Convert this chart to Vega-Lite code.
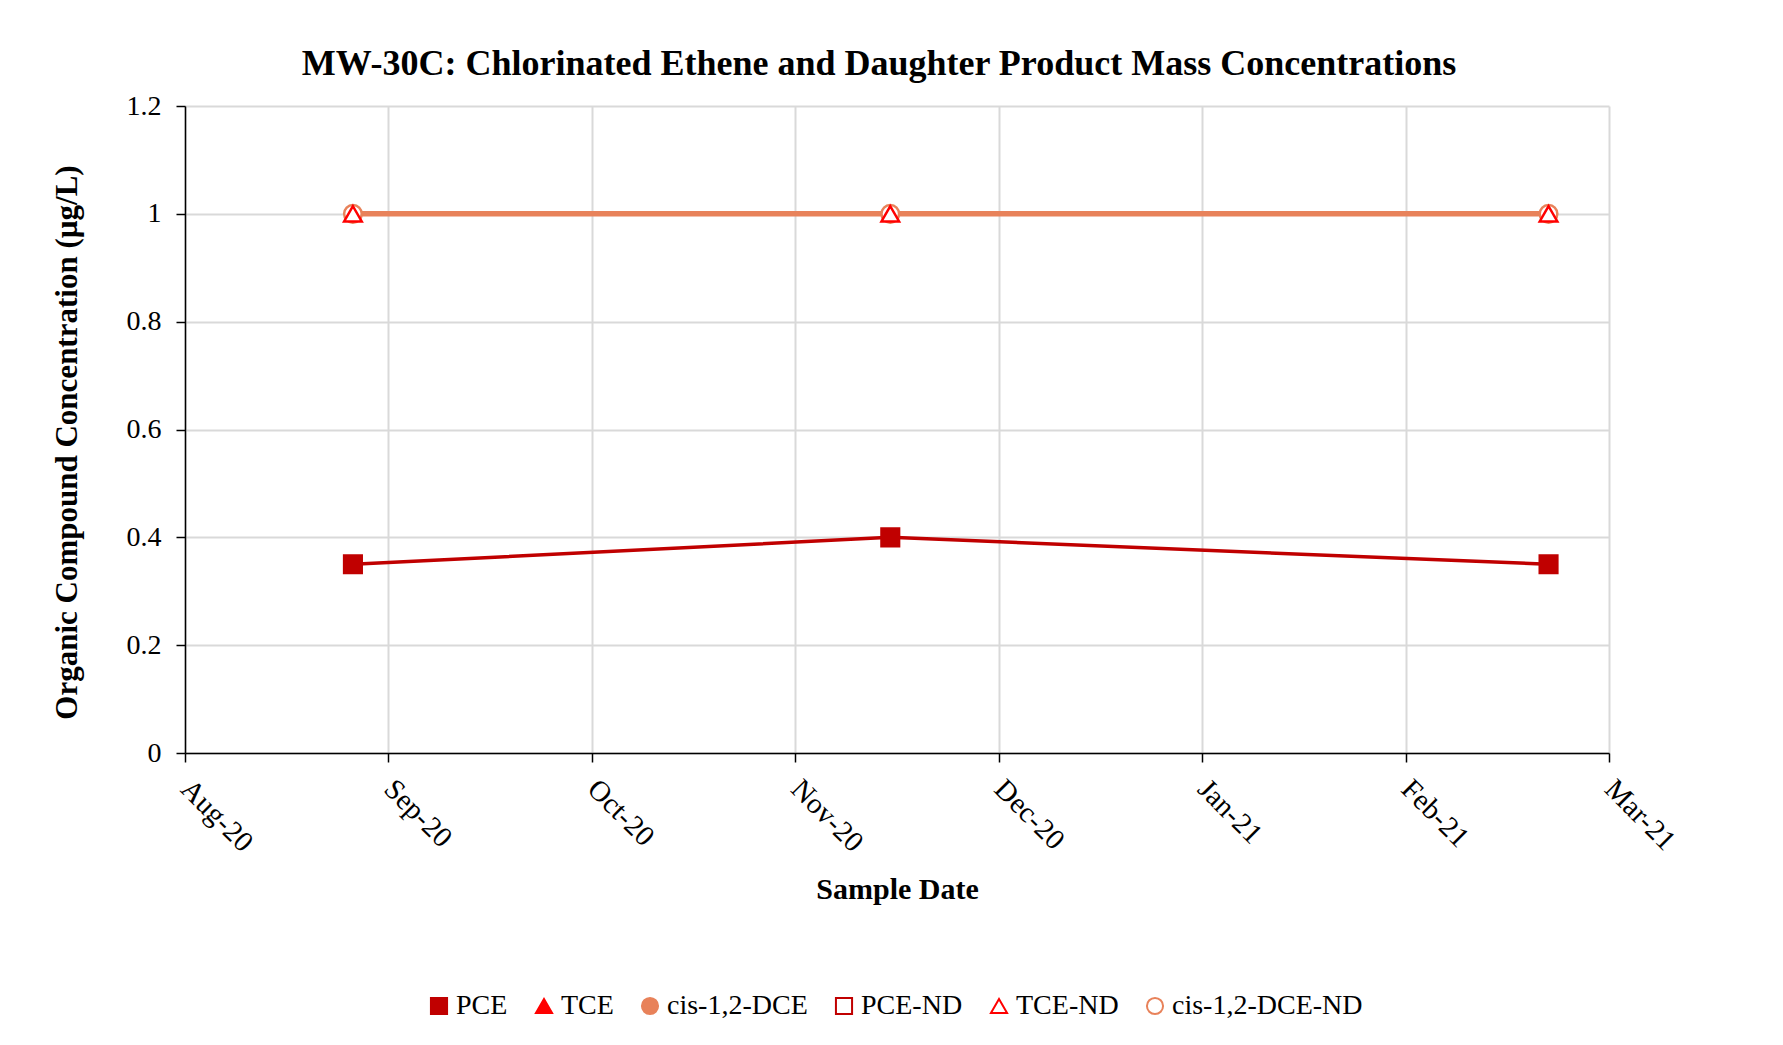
{
  "$schema": "https://vega.github.io/schema/vega-lite/v6.json",
  "autosize": {"type": "none"},
  "width": 1424,
  "height": 647,
  "padding": {"left": 185, "top": 106, "right": 174, "bottom": 292},
  "background": "white",
  "title": {
    "text": "MW-30C: Chlorinated Ethene and Daughter Product Mass Concentrations",
    "font": "Liberation Serif",
    "fontSize": 36,
    "fontWeight": "bold",
    "color": "black",
    "anchor": "middle",
    "frame": "group",
    "dx": -18,
    "offset": 9
  },
  "data": {
    "values": [
      {"date": "2020-08-26T00:00:00", "series": "PCE", "value": 0.35},
      {"date": "2020-11-14T00:00:00", "series": "PCE", "value": 0.4},
      {"date": "2021-02-20T00:00:00", "series": "PCE", "value": 0.35},
      {"date": "2020-08-26T00:00:00", "series": "cis-1,2-DCE-ND", "value": 1},
      {"date": "2020-11-14T00:00:00", "series": "cis-1,2-DCE-ND", "value": 1},
      {"date": "2021-02-20T00:00:00", "series": "cis-1,2-DCE-ND", "value": 1},
      {"date": "2020-08-26T00:00:00", "series": "TCE-ND", "value": 1},
      {"date": "2020-11-14T00:00:00", "series": "TCE-ND", "value": 1},
      {"date": "2021-02-20T00:00:00", "series": "TCE-ND", "value": 1}
    ]
  },
  "encoding": {
    "x": {
      "field": "date",
      "type": "temporal",
      "scale": {"domain": [{"year": 2020, "month": 8, "date": 1}, {"year": 2021, "month": 3, "date": 1}]},
      "axis": {
        "title": "Sample Date",
        "values": [
          {"year": 2020, "month": 8, "date": 1},
          {"year": 2020, "month": 8, "date": 31, "hours": 6, "minutes": 51},
          {"year": 2020, "month": 9, "date": 30, "hours": 13, "minutes": 43},
          {"year": 2020, "month": 10, "date": 30, "hours": 20, "minutes": 34},
          {"year": 2020, "month": 11, "date": 30, "hours": 3, "minutes": 26},
          {"year": 2020, "month": 12, "date": 30, "hours": 10, "minutes": 17},
          {"year": 2021, "month": 1, "date": 29, "hours": 17, "minutes": 9},
          {"year": 2021, "month": 3, "date": 1}
        ],
        "labelExpr": "timeFormat(time(datum.value) + 5 * 86400000, '%b-%y')",
        "labelAngle": 45,
        "labelAlign": "left",
        "labelBaseline": "middle",
        "labelPadding": 22,
        "labelFontSize": 29,
        "titlePadding": 17
      }
    },
    "y": {
      "field": "value",
      "type": "quantitative",
      "scale": {"domain": [0, 1.2], "nice": false},
      "axis": {
        "title": "Organic Compound Concentration (µg/L)",
        "values": [0, 0.2, 0.4, 0.6, 0.8, 1, 1.2],
        "format": "~g",
        "labelFontSize": 28,
        "labelPadding": 15,
        "titlePadding": 43,
        "titleFontSize": 31,
        "titleY": 336
      }
    }
  },
  "layer": [
    {
      "transform": [{"filter": "datum.series === 'PCE'"}],
      "mark": {"type": "line", "color": "#C00000", "strokeWidth": 3.5}
    },
    {
      "transform": [{"filter": "datum.series === 'TCE-ND'"}],
      "mark": {"type": "line", "color": "#FF0000", "strokeWidth": 3}
    },
    {
      "transform": [{"filter": "datum.series === 'cis-1,2-DCE-ND'"}],
      "mark": {"type": "line", "color": "#E8825A", "strokeWidth": 5.5}
    },
    {
      "mark": {"type": "point", "size": 310, "strokeWidth": 2.5, "opacity": 1},
      "encoding": {
        "fill": {
          "field": "series",
          "type": "nominal",
          "scale": {
            "domain": ["PCE", "TCE", "cis-1,2-DCE", "PCE-ND", "TCE-ND", "cis-1,2-DCE-ND"],
            "range": ["#C00000", "#FF0000", "#E8825A", "white", "white", "white"]
          },
          "legend": {
            "title": null,
            "orient": "none",
            "direction": "horizontal",
            "columns": 6,
            "legendX": 240,
            "legendY": 886,
            "symbolSize": 260,
            "symbolStrokeWidth": 2,
            "labelFont": "Liberation Serif",
            "labelFontSize": 28,
            "labelColor": "black",
            "labelOffset": 3,
            "columnPadding": 22,
            "labelLimit": 400
          }
        },
        "stroke": {
          "field": "series",
          "type": "nominal",
          "scale": {
            "domain": ["PCE", "TCE", "cis-1,2-DCE", "PCE-ND", "TCE-ND", "cis-1,2-DCE-ND"],
            "range": ["#C00000", "#FF0000", "#E8825A", "#C00000", "#FF0000", "#E8825A"]
          },
          "legend": {"title": null}
        },
        "shape": {
          "field": "series",
          "type": "nominal",
          "scale": {
            "domain": ["PCE", "TCE", "cis-1,2-DCE", "PCE-ND", "TCE-ND", "cis-1,2-DCE-ND"],
            "range": ["square", "triangle-up", "circle", "square", "triangle-up", "circle"]
          },
          "legend": {"title": null}
        }
      }
    }
  ],
  "config": {
    "view": {"stroke": null},
    "axis": {
      "labelFont": "Liberation Serif",
      "labelColor": "black",
      "titleFont": "Liberation Serif",
      "titleFontSize": 30,
      "titleFontWeight": "bold",
      "titleColor": "black",
      "domainColor": "black",
      "domainWidth": 1.5,
      "tickColor": "black",
      "tickWidth": 1.5,
      "tickSize": 9,
      "gridColor": "#D9D9D9",
      "gridWidth": 2
    }
  }
}
